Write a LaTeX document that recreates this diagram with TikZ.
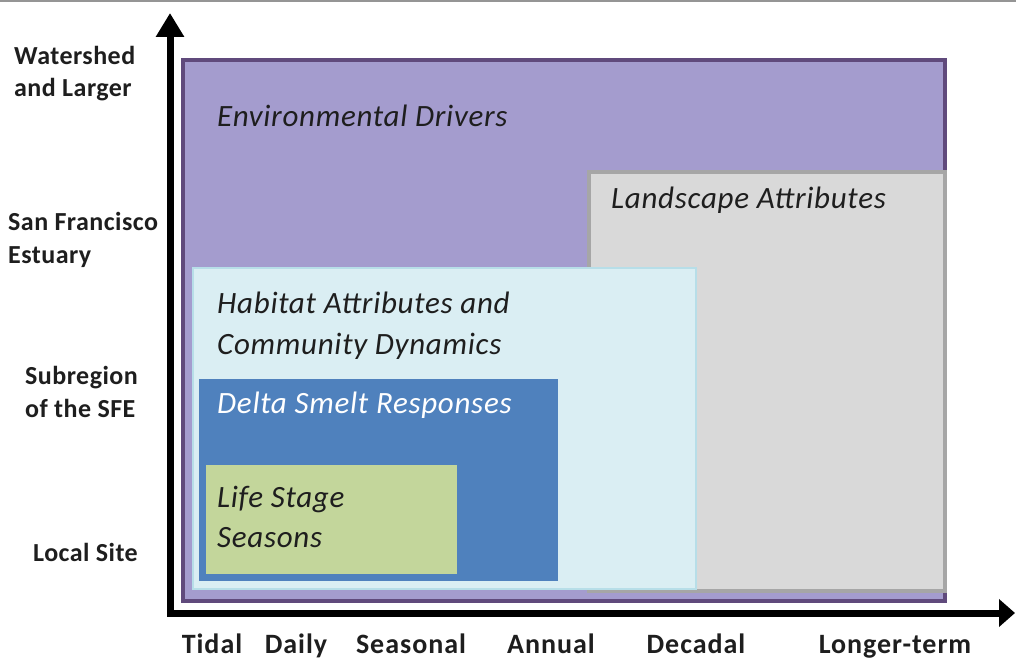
\documentclass[tikz,border=0pt]{standalone}
\usepackage{fontspec}
\setmainfont{Carlito}
\usetikzlibrary{arrows.meta}
\definecolor{envfill}{RGB}{164,156,206}
\definecolor{envline}{RGB}{96,74,124}
\definecolor{landfill}{RGB}{217,217,217}
\definecolor{landline}{RGB}{166,166,166}
\definecolor{habfill}{RGB}{218,238,243}
\definecolor{habline}{RGB}{183,222,232}
\definecolor{smeltfill}{RGB}{79,129,189}
\definecolor{lifefill}{RGB}{195,214,155}
\definecolor{textdark}{RGB}{30,30,30}
\newfontfamily\boxfont[LetterSpace=2.3]{Carlito}
\newfontfamily\labfont[LetterSpace=1.8]{Carlito}
\newfontfamily\xfont[LetterSpace=3.5]{Carlito}
\tikzset{
  boxlabel/.style={anchor=base west, inner sep=0pt, font=\boxfont\fontsize{31}{42}\selectfont\itshape, text=textdark},
  ylab/.style={anchor=base west, inner sep=0pt, font=\labfont\fontsize{26}{33}\selectfont\bfseries, text=textdark},
  xlab/.style={anchor=base, inner sep=0pt, font=\xfont\fontsize{28}{30}\selectfont\bfseries, text=textdark},
  axisline/.style={line width=7pt, black, line join=miter,
    {Triangle[width=27pt,length=24pt]}-{Triangle[width=27pt,length=16pt]}},
}
\begin{document}
\begin{tikzpicture}[x=1pt,y=-1pt]
\useasboundingbox (0,0) rectangle (1016,660);
\fill[fill=white] (0,0) rectangle (1016,660);
\fill[landline!90!black] (0,0) rectangle (1016,2);
% boxes
\draw[line width=4pt, envline, fill=envfill] (183,60) rectangle (945,601);
\draw[line width=4pt, landline, fill=landfill] (589,172) rectangle (945,591);
\draw[line width=2pt, habline, fill=habfill] (193,268) rectangle (696,589);
\fill[smeltfill] (199,379) rectangle (558,581);
\fill[lifefill] (206,465) rectangle (457,574);
% box labels
\node[boxlabel] (envt) at (217,127) {Environmental Drivers};
\node[boxlabel] (landt) at (611,209) {Landscape Attributes};
\node[boxlabel] (habt1) at (217,313) {Habitat Attributes and};
\node[boxlabel] (habt2) at (217,354) {Community Dynamics};
\node[boxlabel, text=white] (smeltt) at (217,413) {Delta Smelt Responses};
\node[boxlabel] (lifet1) at (217,507) {Life Stage};
\node[boxlabel] (lifet2) at (217,547) {Seasons};
% axes
\coordinate (ytip) at (170,13);
\coordinate (xtip) at (1015,613);
\draw[axisline] (ytip) |- (xtip);
% y labels
\node[ylab] (w1) at (14,65) {Watershed};
\node[ylab] (w2) at (14,97) {and Larger};
\node[ylab] (sf1) at (8,230) {San Francisco};
\node[ylab] (sf2) at (8,263) {Estuary};
\node[ylab] (sub1) at (25,384) {Subregion};
\node[ylab] (sub2) at (25,417) {of the SFE};
\node[ylab] (loc) at (33,561) {Local Site};
% x labels
\node[xlab] (t1) at (212,653) {Tidal};
\node[xlab] (t2) at (296,653) {Daily};
\node[xlab] (t3) at (411,653) {Seasonal};
\node[xlab] (t4) at (551,653) {Annual};
\node[xlab] (t5) at (696,653) {Decadal};
\node[xlab] (t6) at (895,653) {Longer-term};
\end{tikzpicture}
\end{document}
